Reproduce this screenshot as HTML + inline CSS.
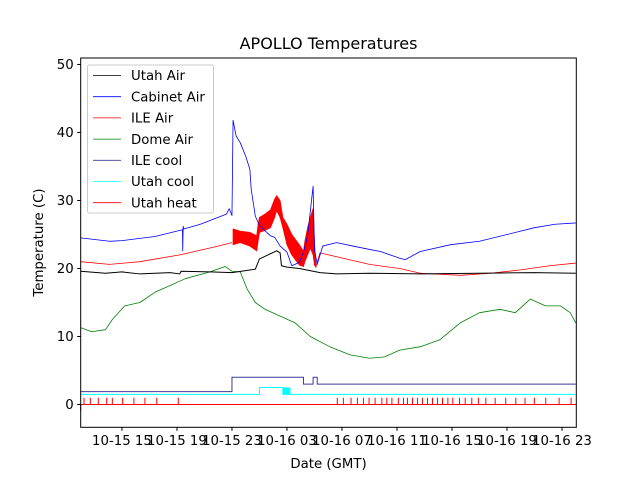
<!DOCTYPE html>
<html><head><meta charset="utf-8"><style>
body{margin:0;background:#fff}
svg{display:block;font-family:"DejaVu Sans","Liberation Sans",sans-serif}
</style></head><body>
<svg id="c" width="640" height="480" viewBox="0 0 640 480">
<rect width="640" height="480" fill="#fff"/>
<text x="328.5" y="49" text-anchor="middle" font-size="16">APOLLO Temperatures</text>
<g id="plot"></g>
<rect x="80.7" y="58" width="495.6" height="369.3" fill="none" stroke="#000" stroke-width="1"/>
<g id="axes"></g>
<text x="328.5" y="468" text-anchor="middle" font-size="13.3">Date (GMT)</text>
<text transform="translate(43,242.5) rotate(-90)" text-anchor="middle" font-size="13.3">Temperature (C)</text>
<g id="legend"></g>
</svg>
<script>
// hours since 10-15 12:00 GMT
const xTickHours=[3,7,11,15,19,23,27,31,35];
const xTickLabels=["10-15 15","10-15 19","10-15 23","10-16 03","10-16 07","10-16 11","10-16 15","10-16 19","10-16 23"];
const yTicks=[0,10,20,30,40,50];
const blueT=[0,2.1,3.0,5.4,7.4,7.42,7.45,7.5,8.7,10.6,10.8,11.0,11.08,11.3,11.6,12.0,12.3,12.4,12.7,13.0,13.8,14.1,14.5,15.0,15.35,15.9,16.2,16.5,16.9,17.0,17.2,17.6,18.6,19.8,21.0,21.8,22.5,23.2,23.6,24.7,26.9,29.0,32.0,33.0,34.5,36.0];
const blueV=[24.5,24.0,24.1,24.7,25.7,22.6,26.2,25.8,26.5,28.0,28.8,27.8,41.8,39.5,38.5,36.5,34.6,31.6,27.7,26.3,24.8,24.6,23.3,22.4,20.4,20.9,22.4,24.8,32.1,22.8,20.6,23.3,23.8,23.3,22.8,22.5,22.0,21.5,21.3,22.5,23.5,24.0,25.5,26.0,26.5,26.7];
const redT=[0,2.1,4.3,7.2,9.8,11.0,11.08,17.1,17.4,21.0,23.2,24.7,27.6,29.8,32.0,34.1,36.0];
const redV=[21.0,20.6,21.0,22.0,23.2,23.8,24.5,20.2,22.3,20.6,20.0,19.3,19.0,19.3,19.8,20.4,20.8];
const bandT=[11.08,11.6,12.3,12.8,12.9,13.0,13.4,13.8,14.1,14.25,14.5,14.7,15.0,15.35,15.9,16.2,16.3,16.5,16.7,16.9,17.0,17.1];
const bandLow=[23.5,23.8,23.3,22.6,24.0,25.3,25.6,26.0,27.5,28.5,27.5,26.0,23.5,22.0,20.5,20.3,21.0,22.0,23.0,22.0,20.5,20.2];
const bandHigh=[25.8,25.5,25.3,24.8,26.5,27.5,28.0,28.6,30.2,30.7,30.0,27.5,26.5,25.0,23.5,22.5,24.0,26.0,27.5,28.8,24.0,20.5];
const blackT=[0,1.8,3.0,4.3,6.5,7.2,7.3,9.4,11.0,12.7,13.0,14.25,14.5,14.6,15.0,15.9,17.4,18.6,21.0,24.7,29.0,33.0,36.0];
const blackV=[19.6,19.3,19.5,19.2,19.4,19.2,19.6,19.5,19.4,19.9,21.4,22.6,22.3,20.4,20.2,20.0,19.4,19.2,19.3,19.2,19.3,19.4,19.3];
const greenT=[0,0.8,1.8,2.3,3.2,4.3,5.4,6.5,7.6,9.4,10.5,11.0,11.6,12.1,12.7,13.4,14.5,15.6,16.7,18.1,19.6,21.0,22.1,23.2,24.7,26.1,27.6,29.0,30.5,31.6,32.7,33.8,34.9,35.6,36.0];
const greenV=[11.3,10.7,11.0,12.5,14.5,15.0,16.5,17.5,18.5,19.5,20.3,19.6,19.5,17.0,15.0,14.0,13.0,12.0,10.0,8.5,7.3,6.8,7.0,8.0,8.5,9.5,12.0,13.5,14.0,13.5,15.5,14.5,14.5,13.5,12.0];
const navyT=[0,11.0,16.2,16.9,17.2,36.0];
const navyV=[1.9,4.0,3.0,4.0,3.0,3.0];
const cyanT=[0,13.0,14.7,15.25,36.0];
const cyanV=[1.5,2.5,1.5,1.5,1.5];
const cyanBand=[14.7,15.25,1.5,2.5];
const heatSpikes=[0.24,0.7,1.28,1.89,2.3,3.05,3.87,4.67,5.53,7.1,18.66,19.1,19.66,20.12,20.56,20.97,21.41,21.9,22.26,22.63,23.1,23.47,23.76,24.13,24.49,24.85,25.22,25.58,25.95,26.31,26.7,27.06,27.55,27.96,28.44,28.92,29.46,30.14,30.91,31.64,32.31,32.99,33.82,34.79,35.66];

const X0=80.7,X1=576.3,Y0=427.3,Y1=58,XMIN=0,XMAX=36.04,YMIN=-3.35,YMAX=50.95;
const sx=h=>X0+(h-XMIN)/(XMAX-XMIN)*(X1-X0);
const sy=v=>Y0-(v-YMIN)/(YMAX-YMIN)*(Y0-Y1);
const NS="http://www.w3.org/2000/svg";
const plot=document.getElementById('plot'),axes=document.getElementById('axes'),leg=document.getElementById('legend');
function mk(tag,attrs,parent){const e=document.createElementNS(NS,tag);for(const k in attrs)e.setAttribute(k,attrs[k]);parent.appendChild(e);return e;}
function line(T,V,color,name,w,step){
  let d='';
  T.forEach((t,i)=>{
    if(i===0){d+='M'+sx(t)+','+sy(V[i]);}
    else if(step){d+='H'+sx(t)+'V'+sy(V[i]);}
    else d+='L'+sx(t)+','+sy(V[i]);
  });
  const p=mk('path',{d:d,fill:'none',stroke:color,'stroke-width':w||0.8,'stroke-linejoin':'round'},plot);
  
  
}
let bd='M'+sx(bandT[0])+','+sy(bandHigh[0]);
bandT.forEach((t,i)=>{bd+='L'+sx(t)+','+sy(bandHigh[i]);});
for(let i=bandT.length-1;i>=0;i--)bd+='L'+sx(bandT[i])+','+sy(bandLow[i]);
const band=mk('path',{d:bd+'Z',fill:'#ff0000',stroke:'#ff0000','stroke-width':0.8},plot);


line(greenT,greenV,'#008000','dome-air-line');
line(redT.slice(0,6),redV.slice(0,6),'#ff0000','ile-air-line-early');
line(redT.slice(7),redV.slice(7),'#ff0000','ile-air-line-late');
line(blueT,blueV,'#0000ff','cabinet-air-line');
line(blackT,blackV,'#000000','utah-air-line',1);
line(navyT,navyV,'#3a3a9a','ile-cool-line',1,true);
line(cyanT,cyanV,'#00ffff','utah-cool-line',1,true);
const cb=mk('rect',{x:sx(cyanBand[0]),y:sy(cyanBand[3]),width:sx(cyanBand[1])-sx(cyanBand[0]),height:sy(cyanBand[2])-sy(cyanBand[3]),fill:'#00ffff'},plot);


let hd='M'+sx(0)+','+sy(-1)+'V'+sy(0)+'H'+sx(XMAX);
heatSpikes.forEach(t=>{hd+='M'+sx(t)+','+sy(0)+'V'+sy(1.0);});
const hp=mk('path',{d:hd,fill:'none',stroke:'#ff0000','stroke-width':1},plot);


yTicks.forEach(v=>{
  const t=mk('line',{x1:X0-3.5,x2:X0,y1:sy(v),y2:sy(v),stroke:'#000'},axes);
  
  
  const l=mk('text',{x:X0-7,y:sy(v)+4.6,'text-anchor':'end','font-size':13.3},axes);
  l.textContent=v;
  
  
});
xTickHours.forEach((h,i)=>{
  const t=mk('line',{x1:sx(h),x2:sx(h),y1:Y0,y2:Y0+3.5,stroke:'#000'},axes);
  
  
  const l=mk('text',{x:sx(h),y:Y0+17.5,'text-anchor':'middle','font-size':13.3},axes);
  l.textContent=xTickLabels[i];
  
  
});
const legNames=["Utah Air","Cabinet Air","ILE Air","Dome Air","ILE cool","Utah cool","Utah heat"];
const legColors=["#000000","#0000ff","#ff0000","#008000","#3a3a9a","#00ffff","#ff0000"];
const lb=mk('rect',{x:87.5,y:65,width:126,height:148,rx:2,fill:'#fff','fill-opacity':0.8,stroke:'#ccc'},leg);


legNames.forEach((n,i)=>{
  const y=75.5+i*21.2;
  const g=mk('g',{},leg);
  
  
  mk('line',{x1:93,x2:121,y1:y,y2:y,stroke:legColors[i],'stroke-width':0.8},g);
  const t=mk('text',{x:131,y:y+4.7,'font-size':13.3},g);
  t.textContent=n;
});
</script>
</body></html>
